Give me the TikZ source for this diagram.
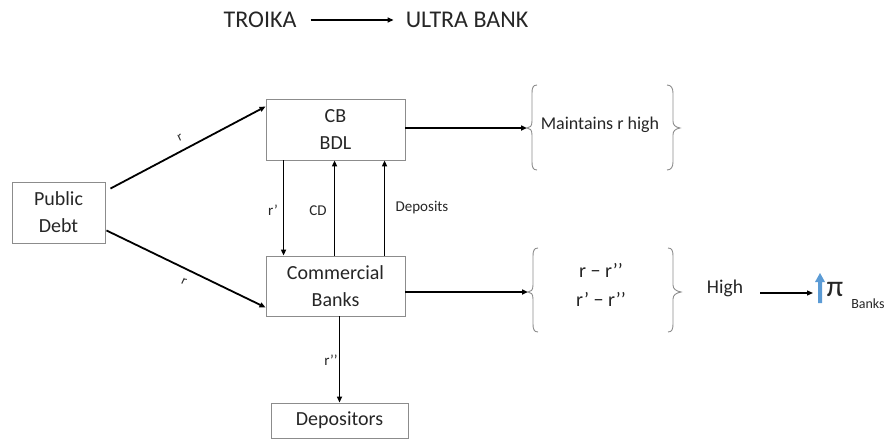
\documentclass[tikz,border=0pt]{standalone}
\usepackage{fontspec}
\setmainfont{Carlito}
\usetikzlibrary{arrows.meta,calc}
\definecolor{boxgray}{HTML}{8C8C8C}
\definecolor{txt}{HTML}{262626}
\definecolor{bluearr}{HTML}{5B9BD5}
\tikzset{
  boxnode/.style={draw=boxgray,line width=0.9pt,inner sep=0pt,align=center,text=txt,
    font=\fontsize{20}{27}\selectfont},
  arr/.style={draw=black,line width=1.8pt,-{Triangle[length=6pt,width=5pt]}},
  thinarr/.style={draw=black,line width=1.3pt,-{Triangle[length=6pt,width=5pt]}},
  lbl/.style={inner sep=0pt,text=txt,font=\fontsize{15}{18}\selectfont},
  bracepath/.style={draw=boxgray,line width=0.9pt},
}
\begin{document}
\begin{tikzpicture}[x=1pt,y=-1pt]
\useasboundingbox (0,0) rectangle (887,439);
% title
\node[inner sep=0pt,text=txt,font=\fontsize{24}{28}\selectfont] (troika) at (260,20) {TROIKA};
\node[inner sep=0pt,text=txt,font=\fontsize{24}{28}\selectfont] (ultra) at (467,20) {ULTRA BANK};
\draw[thinarr] ($(troika.east)+(14,0)$) -- ($(ultra.west)+(-12,0)$);
% boxes
\node[boxnode,minimum width=93pt,minimum height=61pt] (pd) at (58.5,212.5) {Public\\Debt};
\node[boxnode,minimum width=139pt,minimum height=61pt] (cb) at (335.5,129.5) {CB\\BDL};
\node[boxnode,minimum width=139pt,minimum height=60pt] (commb) at (335.5,286) {Commercial\\Banks};
\node[boxnode,minimum width=137pt,minimum height=35pt] (dep) at (339.5,420.5) {Depositors};
% diagonal connectors
\draw[arr] ($(pd.north east)+(5,7)$) -- ($(cb.north west)+(0,8)$);
\draw[arr] ($(pd.south east)+(1,-13)$) -- ($(commb.south west)+(0,-9)$);
\node[lbl,font=\fontsize{13}{15}\selectfont,rotate=25] (lr1) at (180,138) {r};
\node[lbl,font=\fontsize{13}{15}\selectfont,rotate=-25] (lr2) at (184,282) {r};
% vertical connectors
\draw[arr] ($(cb.south west)+(18,0)$) -- ($(commb.north west)+(18,0)$);
\draw[arr] ($(commb.north west)+(69,0)$) -- ($(cb.south west)+(69,0)$);
\draw[arr] ($(commb.north west)+(119,0)$) -- ($(cb.south west)+(119,0)$);
\node[lbl] (lrp) at (273,210) {r’};
\node[lbl] (lcd) at (318,211) {CD};
\node[lbl] (ldep) at (422,208) {Deposits};
\draw[arr] (dep.north |- commb.south) -- (dep.north);
\node[lbl] (lrpp) at (331,360) {r’’};
% braces
\coordinate (b1) at (527,128);
\coordinate (b2) at (528,292);
\draw[arr] ($(cb.east)+(0,-1.5)$) -- (b1);
\draw[arr] ($(commb.east)+(0,6)$) -- (b2);
\draw[bracepath] (537,85) .. controls (533,85) and (532,88) .. (532,93) -- (532,121)
  .. controls (532,126) and (530,128) .. (527,128) .. controls (530,128) and (532,130) .. (532,135)
  -- (532,162) .. controls (532,167) and (533,170) .. (537,170);
\draw[bracepath] (667,85) .. controls (671,85) and (673,88) .. (673,93) -- (673,121)
  .. controls (673,125) and (675,127) .. (680,128) .. controls (675,129) and (673,131) .. (673,135)
  -- (673,162) .. controls (673,167) and (671,170) .. (667,170);
\node[lbl,font=\fontsize{18}{22}\selectfont] (maint) at (600,125) {Maintains r high};
\draw[bracepath] (538,248) .. controls (534,248) and (533,251) .. (533,256) -- (533,285)
  .. controls (533,290) and (531,292) .. (528,292) .. controls (531,292) and (533,294) .. (533,299)
  -- (533,324) .. controls (533,329) and (534,332) .. (538,332);
\draw[bracepath] (668,248) .. controls (672,248) and (673,251) .. (673,256) -- (673,285)
  .. controls (673,289) and (676,291) .. (681,292) .. controls (676,293) and (673,295) .. (673,299)
  -- (673,324) .. controls (673,329) and (672,332) .. (668,332);
\node[lbl,font=\fontsize{20}{24}\selectfont] (d1) at (601,270) {r − r’’};
\node[lbl,font=\fontsize{20}{24}\selectfont] (d2) at (601,299) {r’ − r’’};
% profits
\node[lbl,font=\fontsize{19.5}{24}\selectfont] (high) at (725,288) {High};
\coordinate (up) at (813,293);
\draw[thinarr] ($(high.east)+(17,5)$) -- (up);
\fill[bluearr] (818,303) -- (818,282) -- (815,282) -- (820,273) -- (825,282) -- (822,282) -- (822,303) -- cycle;
\node[lbl,font=\fontsize{30}{32}\selectfont] (pi) at (835,289) {π};
\node[lbl,font=\fontsize{14}{16}\selectfont] (banks) at (868,304) {Banks};
\end{tikzpicture}
\end{document}
